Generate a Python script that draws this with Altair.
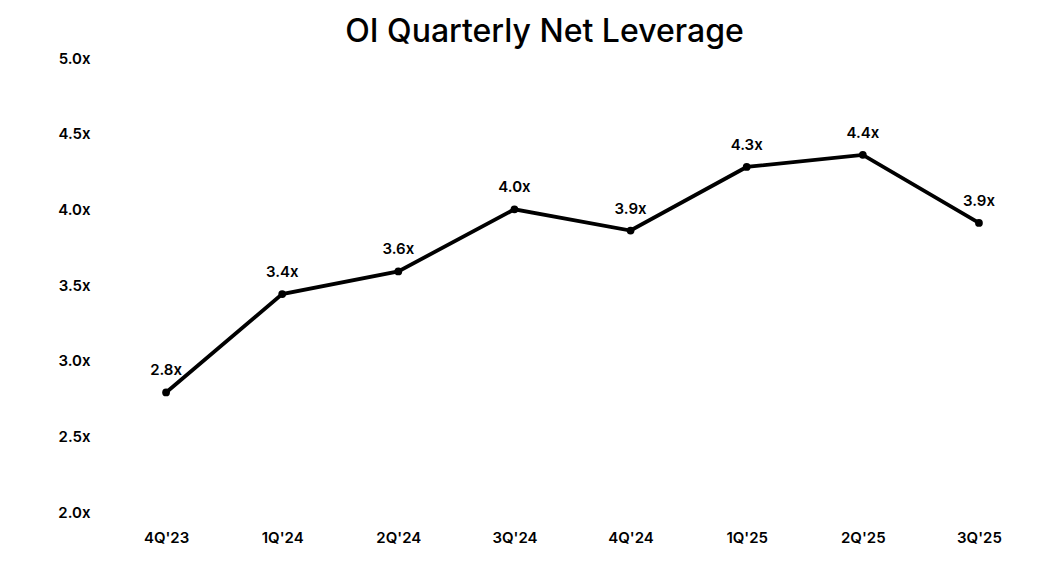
import altair as alt
import pandas as pd

quarters = ["4Q'23", "1Q'24", "2Q'24", "3Q'24", "4Q'24", "1Q'25", "2Q'25", "3Q'25"]
leverage = [2.79, 3.44, 3.59, 4.00, 3.86, 4.28, 4.36, 3.91]
y_ticks = [2.0, 2.5, 3.0, 3.5, 4.0, 4.5, 5.0]

df = pd.DataFrame({"quarter": quarters, "lev": leverage})

FONT = "Inter"

x = alt.X("quarter:N", sort=quarters,
          scale=alt.Scale(type="point", padding=0.5),
          axis=alt.Axis(title=None, labelAngle=0, domain=False, ticks=False, grid=False,
                        labelFont=FONT, labelFontSize=15, labelFontWeight=600,
                        labelColor="#000", labelPadding=18))
y = alt.Y("lev:Q", scale=alt.Scale(domain=[2.0, 5.0], nice=False, zero=False),
          axis=alt.Axis(title=None, values=y_ticks, domain=False, ticks=False, grid=False,
                        labelExpr="format(datum.value, '.1f') + 'x'",
                        labelFont=FONT, labelFontSize=15, labelFontWeight=600,
                        labelColor="#000", labelPadding=18, labelAlign="right"))

base = alt.Chart(df).encode(x=x, y=y)

line = base.mark_line(color="#000", strokeWidth=3.8)
pts = base.mark_point(filled=True, color="#000", size=60, opacity=1)
txt = base.transform_calculate(
    lbl="format(datum.lev, '.1f') + 'x'"
).mark_text(dy=-22, font=FONT, fontSize=15, fontWeight=600, color="#000").encode(text="lbl:N")

chart = alt.layer(line, pts, txt).properties(
    width=929, height=454,
    background="white",
    title=alt.TitleParams("OI Quarterly Net Leverage", font=FONT, fontSize=32,
                          fontWeight=500, color="#000", anchor="middle", frame="group",
                          dx=-28, offset=2),
    autosize=alt.AutoSizeParams(type="none"),
    padding={"left": 100, "top": 50, "right": 10, "bottom": 48},
).configure_view(strokeWidth=0, stroke=None)

chart.save("out.html", embed_options={"renderer": "svg", "actions": False})
